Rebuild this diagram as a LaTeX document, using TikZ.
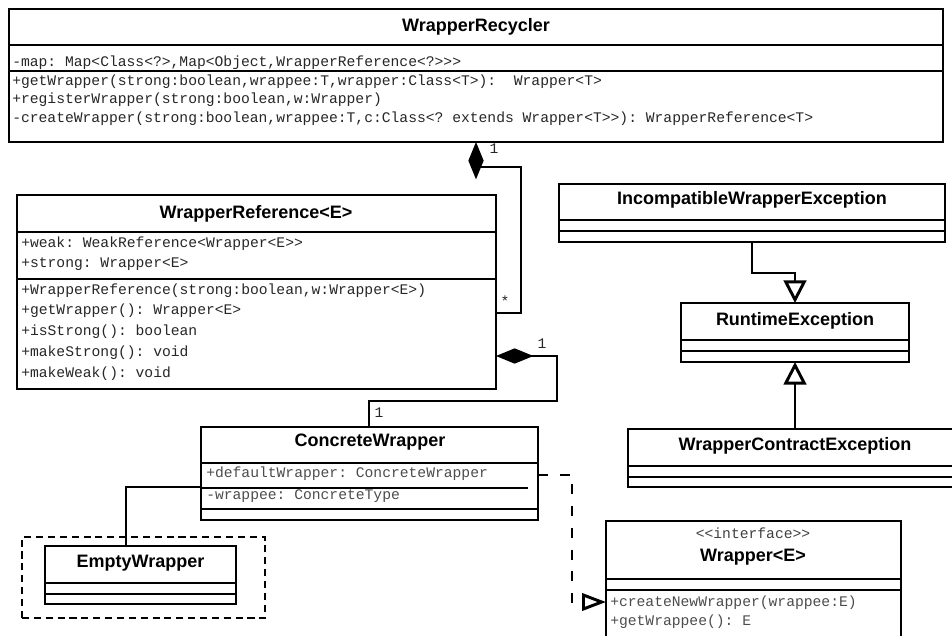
\documentclass[tikz,border=0pt]{standalone}
\usepackage{fontspec}
\setmainfont{Liberation Sans}
\newfontfamily\umlmono{Liberation Mono}
\usetikzlibrary{arrows.meta,fit}

\begin{document}
\begin{tikzpicture}[x=0.75pt,y=-0.75pt,
  box/.style={draw, line width=2.2pt, inner sep=0pt, outer sep=0pt},
  sep/.style={line width=2.2pt},
  cname/.style={font=\bfseries\fontsize{13.5}{16}\selectfont, anchor=base, inner sep=0pt},
  member/.style={font=\umlmono\fontsize{11}{13}\selectfont\frenchspacing, anchor=base west, inner sep=0pt, text=black!85},
  stereo/.style={font=\umlmono\fontsize{11}{13}\selectfont, anchor=base, inner sep=0pt, text=black!75},
  mult/.style={font=\umlmono\fontsize{11}{13}\selectfont, anchor=base, inner sep=0pt, text=black!85},
  link/.style={line width=2.2pt},
  compo/.style={link, -{Diamond[length=28pt,width=11.5pt]}},
  gen/.style={link, -{Triangle[open,length=17pt,width=17pt]}},
  realize/.style={link, dash pattern=on 7.5pt off 8.8pt, -{Triangle[open,length=18pt,width=13pt]}},
  pkg/.style={draw, line width=2pt, dash pattern=on 5.3pt off 3.6pt, inner sep=0pt, outer sep=0pt}
]
\clip (0,0) rectangle (952,635);

% ---------- WrapperRecycler ----------
\node[box, fit={(9,9) (943,142)}] (rec) {};
\draw[sep] (rec.west |- 0,45) -- (rec.east |- 0,45);
\draw[sep] (rec.west |- 0,71) -- (rec.east |- 0,71);
\node[cname] (recT) at (476,31.5) {WrapperRecycler};
\node[member] (recA1) at (12,66) {-map: Map<Class<?>,Map<Object,WrapperReference<?>>>};
\node[member] (recM1) at (12,85) {+getWrapper(strong:boolean,wrappee:T,wrapper:Class<T>):~~Wrapper<T>};
\node[member] (recM2) at (12,103.5) {+registerWrapper(strong:boolean,w:Wrapper)};
\node[member] (recM3) at (12,122) {-createWrapper(strong:boolean,wrappee:T,c:Class<? extends Wrapper<T>>): WrapperReference<T>};

% ---------- WrapperReference<E> ----------
\node[box, fit={(17,195) (496,389)}] (ref) {};
\draw[sep] (ref.west |- 0,232) -- (ref.east |- 0,232);
\draw[sep] (ref.west |- 0,279) -- (ref.east |- 0,279);
\node[cname] (refT) at (256,218) {WrapperReference<E>};
\node[member] (refA1) at (21,247) {+weak: WeakReference<Wrapper<E>>};
\node[member] (refA2) at (21,267.5) {+strong: Wrapper<E>};
\node[member] (refM1) at (21,294) {+WrapperReference(strong:boolean,w:Wrapper<E>)};
\node[member] (refM2) at (21,314.5) {+getWrapper(): Wrapper<E>};
\node[member] (refM3) at (21,335.5) {+isStrong(): boolean};
\node[member] (refM4) at (21,356.5) {+makeStrong(): void};
\node[member] (refM5) at (21,377) {+makeWeak(): void};

% ---------- ConcreteWrapper ----------
\node[box, fit={(201,427) (538,520)}] (cw) {};
\draw[sep] (cw.west |- 0,463) -- (cw.east |- 0,463);
\draw[line width=0.8pt] (cw.west |- 0,488) -- (528,488);
\draw[sep] (cw.west |- 0,509) -- (cw.east |- 0,509);
\node[cname] (cwT) at (370,446) {ConcreteWrapper};
\node[member, text=black!70] (cwA1) at (206,477.5) {+defaultWrapper: ConcreteWrapper};
\node[member, text=black!70] (cwA2) at (206,499) {-wrappee: ConcreteType};

% ---------- EmptyWrapper ----------
\node[pkg, fit={(22,537) (265,618)}] (ewpkg) {};
\node[box, fit={(45,546) (236,604)}] (ew) {};
\draw[sep] (ew.west |- 0,583) -- (ew.east |- 0,583);
\draw[sep] (ew.west |- 0,594) -- (ew.east |- 0,594);
\node[cname] (ewT) at (140.5,567.5) {EmptyWrapper};

% ---------- exceptions ----------
\node[box, fit={(559,184) (945,242)}] (iwe) {};
\draw[sep] (iwe.west |- 0,220) -- (iwe.east |- 0,220);
\draw[sep] (iwe.west |- 0,231) -- (iwe.east |- 0,231);
\node[cname] (iweT) at (752,204) {IncompatibleWrapperException};

\node[box, fit={(681,303) (909,362)}] (re) {};
\draw[sep] (re.west |- 0,340) -- (re.east |- 0,340);
\draw[sep] (re.west |- 0,351) -- (re.east |- 0,351);
\node[cname] (reT) at (795,325) {RuntimeException};

\node[box, fit={(628,429) (962,487)}] (wce) {};
\draw[sep] (wce.west |- 0,466) -- (wce.east |- 0,466);
\draw[sep] (wce.west |- 0,477) -- (wce.east |- 0,477);
\node[cname] (wceT) at (795,450) {WrapperContractException};

% ---------- Wrapper<E> interface ----------
\node[box, fit={(606,521) (901,680)}] (wr) {};
\draw[sep] (wr.west |- 0,579) -- (wr.east |- 0,579);
\draw[sep] (wr.west |- 0,590) -- (wr.east |- 0,590);
\node[stereo] (wrS) at (753,538) {<<interface>>};
\node[cname] (wrT) at (753,561) {Wrapper<E>};
\node[member, text=black!70] (wrM1) at (610,606) {+createNewWrapper(wrappee:E)};
\node[member, text=black!70] (wrM2) at (610,625.5) {+getWrappee(): E};

% ---------- connectors ----------
% WrapperRecycler owns WrapperReference (1 -- *)
\draw[compo] (ref.east |- 0,313) -| (521,167) -| (rec.south -| 476,0);
\node[mult] (m1) at (494,153) {1};
\node[mult] (m2) at (505,306) {*};

% WrapperReference owns ConcreteWrapper (1 -- 1)
\draw[compo] (cw.north -| 369,0) |- (557,401) |- (ref.east |- 0,356);
\node[mult] (m3) at (542,348) {1};
\node[mult] (m4) at (379,417) {1};

% EmptyWrapper attached to ConcreteWrapper
\draw[link] (ew.north -| 126,0) |- (cw.west |- 0,487);

% inheritance among the exceptions
\draw[gen] (iwe.south) |- (795,273) -- (re.north);
\draw[gen] (wce.north) -- (re.south);

% ConcreteWrapper realizes Wrapper<E>
\draw[realize] (cw.east |- 0,475) -| (572,602) -- (wr.west |- 0,602);
\end{tikzpicture}
\end{document}
